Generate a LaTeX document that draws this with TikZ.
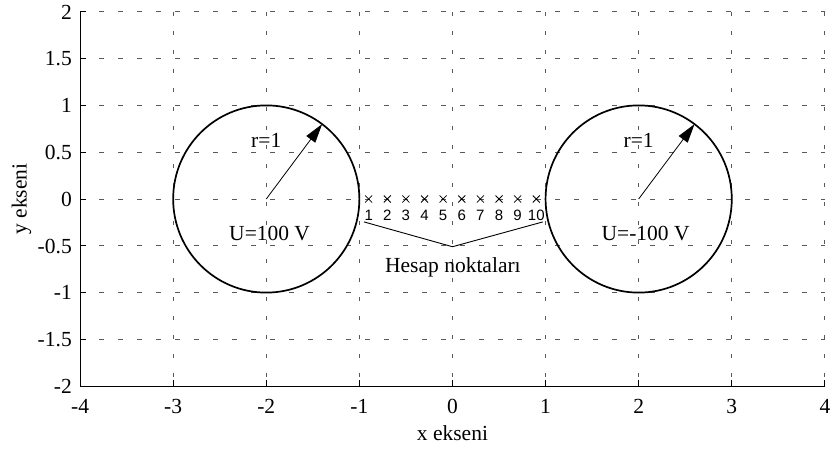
\documentclass[tikz,border=0pt]{standalone}
\usepackage{fontspec}
\setmainfont{Liberation Serif}
\newfontfamily\arialfont{Liberation Sans}
\usetikzlibrary{arrows.meta}
\begin{document}
\begin{tikzpicture}[x=93.1pt,y=93.6pt,
  gridline/.style={black!65,line width=0.9pt,dash pattern=on 4.5pt off 14.5pt},
  axisline/.style={black,line width=1.1pt},
  tickmark/.style={black,line width=0.9pt},
  circ/.style={black,line width=1.7pt},
  lab/.style={font=\fontsize{21.5}{24}\selectfont,inner sep=0pt},
  numlab/.style={font=\arialfont\fontsize{15}{17}\selectfont,inner sep=0pt},
  ptmark/.style={black,line width=0.8pt},
  radarrow/.style={black,line width=0.8pt,-{Triangle[length=19pt,width=11pt]}},
  leader/.style={black,line width=0.9pt}]
\useasboundingbox (-4.860,-2.682) rectangle (4.055,2.126);
\fill[white] (-4.860,-2.682) rectangle (4.055,2.126);
% grid
\foreach \x in {-3,...,4} \draw[gridline] (\x,2) -- (\x,-2);
\foreach \y in {-1.5,-1,...,2} \draw[gridline] (-4,\y) -- (4,\y);
% axes
\coordinate (otop) at (-4,2);
\coordinate (o) at (-4,-2);
\coordinate (oright) at (4,-2);
\draw[axisline] (otop) -- (o) -- (oright);
\foreach \x in {-4,...,4} {
  \draw[tickmark] (\x,-2) -- ++(0,6pt);
  \node[lab,anchor=base] (xt\x) at (\x,-2.289) {\x};
}
\foreach \y/\t [count=\i] in {-2/-2,-1.5/-1.5,-1/-1,-0.5/-0.5,0/0,0.5/0.5,1/1,1.5/1.5,2/2} {
  \draw[tickmark] (-4,\y) -- ++(6pt,0);
  \node[lab,anchor=base east] (yt\i) at (-4.087,\y-0.078) {\t};
}
% circles
\coordinate (cL) at (-2,0);
\coordinate (cR) at (2,0);
\draw[circ] (cL) circle [radius=1];
\draw[circ] (cR) circle [radius=1];
\coordinate (tL) at (-1.4,0.8);
\coordinate (tR) at (2.6,0.8);
\draw[radarrow] (cL) -- (tL);
\draw[radarrow] (cR) -- (tR);
\node[lab,anchor=base] (rL) at (-2,0.552) {r=1};
\node[lab,anchor=base] (rR) at (2,0.552) {r=1};
\node[lab,anchor=base west] (uL) at (-2.4,-0.445) {U=100 V};
\node[lab,anchor=base west] (uR) at (1.6,-0.445) {U=-100 V};
% calculation points
\foreach \k in {1,...,10} {
  \pgfmathsetmacro\px{-1.1+0.2*\k}
  \coordinate (p\k) at (\px,0);
  \draw[ptmark] (p\k) ++(-3.5pt,-3.5pt) -- ++(7pt,7pt) (p\k) ++(-3.5pt,3.5pt) -- ++(7pt,-7pt);
  \node[numlab] (n\k) at (\px,-0.171) {\k};
}
\coordinate (hl) at (-0.95,-0.245);
\coordinate (apex) at (0,-0.51);
\coordinate (hr) at (0.97,-0.245);
\draw[leader] (hl) -- (apex) -- (hr);
\node[lab,anchor=base west] (hesap) at (-0.725,-0.787) {Hesap noktaları};
% axis labels
\node[lab,anchor=base] (xlab) at (0,-2.582) {x ekseni};
\node[lab,rotate=90,anchor=base] (ylab) at (-4.573,0) {y ekseni};
\end{tikzpicture}
\end{document}
